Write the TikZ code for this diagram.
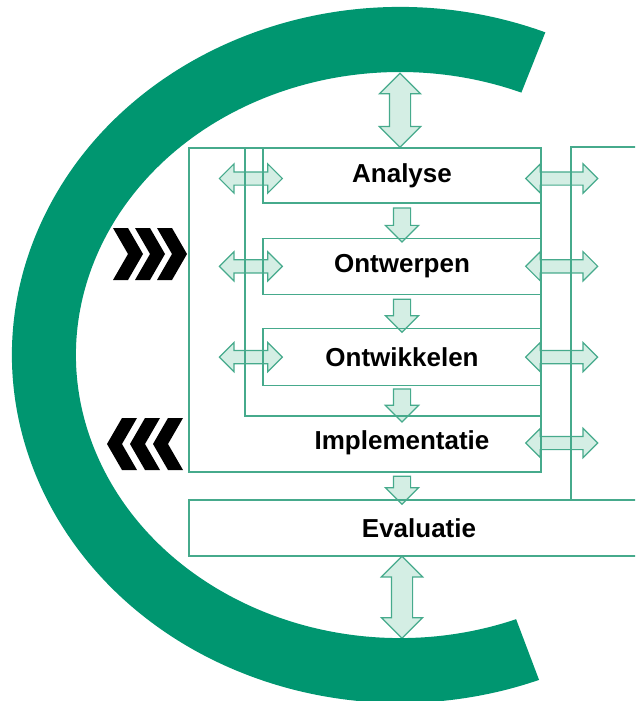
\documentclass[tikz,border=0pt]{standalone}
\usepackage{fontspec}
\setmainfont{Liberation Sans}
\usepackage{tikz}
\usetikzlibrary{shapes.arrows, positioning, calc, backgrounds}
\definecolor{cgreen}{RGB}{0,150,112}
\definecolor{linegreen}{RGB}{70,170,140}
\definecolor{mint}{RGB}{212,238,228}

\begin{document}
\begin{tikzpicture}[
    x = 1pt, y = -1pt,
    phase/.style = {rectangle, draw = linegreen, line width = 1.3pt, inner sep = 0pt, minimum width = 278pt, minimum height = 56pt, font = \bfseries\fontsize{26}{30}\selectfont},
    steptext/.style = {inner sep = 0pt, font = \bfseries\fontsize{26}{30}\selectfont},
    boxline/.style = {draw = linegreen, line width = 1.3pt},
    flow/.style = {single arrow, draw = linegreen, fill = mint, line width = 1.2pt, inner sep = 8pt, minimum width = 32pt, single arrow head extend = 8pt, shape border rotate = 270},
    vlink/.style = {double arrow, draw = linegreen, fill = mint, line width = 1.2pt, inner sep = 10pt, minimum width = 40pt, double arrow head extend = 10pt, shape border rotate = 90},
    hlink/.style = {double arrow, draw = linegreen, fill = mint, line width = 1.2pt, inner sep = 6pt, minimum width = 28pt, double arrow head extend = 8pt},
    ]

    \useasboundingbox (0,0) rectangle (635,701);
    \clip (0,0) rectangle (635,701);

    % the big C round the whole cycle
    \fill [cgreen] ($(400,355)+(292:388 and 348)$) arc [start angle = 292, end angle = 69, x radius = 388, y radius = 348]
        -- ($(400,355)+(69:324 and 283)$) arc [start angle = 69, end angle = 292, x radius = 324, y radius = 283] -- cycle;
    \coordinate (ctop) at (400,73);
    \coordinate (cbot) at (402,638);

    % chevrons in and out
    \foreach \tx in {143, 165, 187}
        \fill (\tx-30,228) -- (\tx-15,228) -- (\tx,254) -- (\tx-15,280) -- (\tx-30,280) -- (\tx-15,254) -- cycle;
    \foreach \tx in {107, 130, 153}
        \fill (\tx+30,418) -- (\tx+15,418) -- (\tx,444) -- (\tx+15,470) -- (\tx+30,470) -- (\tx+15,444) -- cycle;

    % phases
    \node [phase, minimum height = 55pt] (analyse) at (402,175.5) {Analyse};
    \node [phase] (ontwerpen) [below = 34pt of analyse] {Ontwerpen};
    \node [phase, minimum height = 57pt] (ontwikkelen) [below = 33pt of ontwerpen] {Ontwikkelen};
    \node [boxline, minimum width = 352pt, minimum height = 324pt] (implbox) at (365,310) {};
    \node [steptext] (implementatie) at (402,443) {Implementatie};
    \node [phase, minimum width = 460pt] (evaluatie) at (419,528) {Evaluatie};

    \draw [boxline] (245,148) |- (541,416);
    \draw [boxline] (571,500) |- (650,147);

    % block arrows, under the lines
    \begin{scope}[on background layer]
    \node [vlink, minimum height = 74pt] (toplink) at ($(ctop)!.5!(ctop |- analyse.north)$) {};
    \node [vlink, minimum height = 82pt] (botlink) at ($(cbot)!.5!(cbot |- evaluatie.south)$) {};

    \node [flow, minimum height = 34pt] (flow1) at ($(analyse.south)!.5!(ontwerpen.north)$) {};
    \node [flow, minimum height = 33pt] (flow2) at ($(ontwerpen.south)!.5!(ontwikkelen.north)$) {};
    \node [flow, minimum height = 33pt] (flow3) at ($(ontwikkelen.south)!.5!(ontwikkelen.south |- 0,416)$) {};
    \node [flow, minimum height = 28pt] (flow4) at ($(implementatie |- implbox.south)!.5!(implementatie |- evaluatie.north)$) {};

    \node [hlink, minimum height = 63pt] (analyse-in) at ([xshift = -11.5pt, yshift = -3pt]analyse.west) {};
    \node [hlink, minimum height = 63pt] (ontwerpen-in) at ([xshift = -11.5pt]ontwerpen.west) {};
    \node [hlink, minimum height = 63pt] (ontwikkelen-in) at ([xshift = -11.5pt]ontwikkelen.west) {};
    \node [hlink, minimum height = 72pt] (analyse-out) at ([xshift = 20pt, yshift = -3pt]analyse.east) {};
    \node [hlink, minimum height = 72pt] (ontwerpen-out) at ([xshift = 20pt]ontwerpen.east) {};
    \node [hlink, minimum height = 72pt] (ontwikkelen-out) at ([xshift = 20pt]ontwikkelen.east) {};
    \node [hlink, minimum height = 72pt] (implementatie-out) at ([xshift = 20pt]analyse.east |- implementatie) {};
    \end{scope}
\end{tikzpicture}
\end{document}
